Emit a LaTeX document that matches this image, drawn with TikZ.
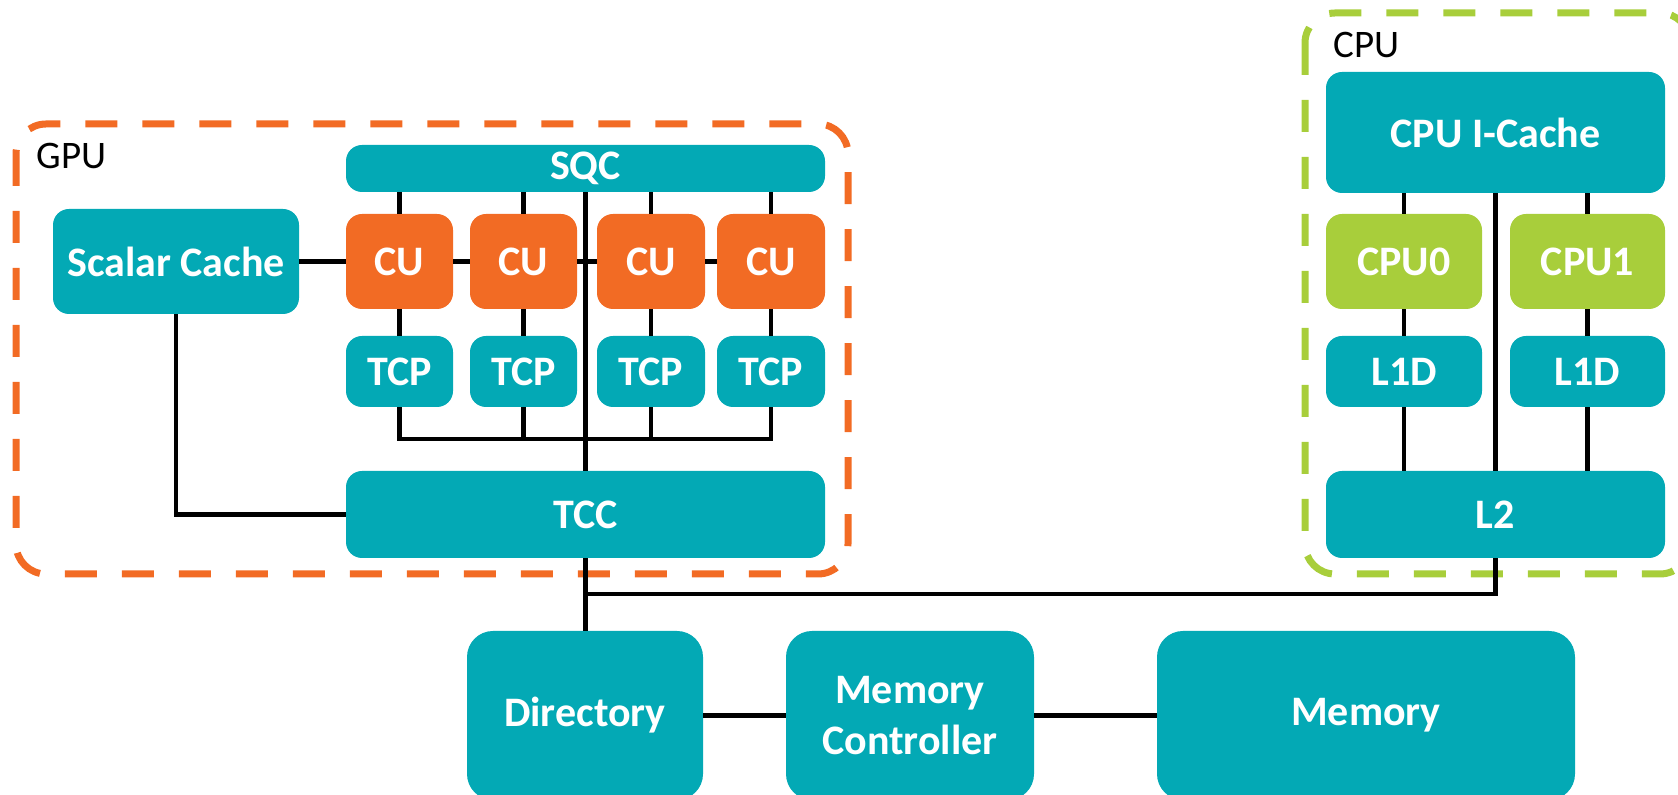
\documentclass[tikz,border=0pt]{standalone}
\usepackage{fontspec}
\setmainfont{Carlito}
\definecolor{tealc}{HTML}{03A9B5}
\definecolor{orangec}{HTML}{F26B24}
\definecolor{greenc}{HTML}{A8CE3B}
\begin{document}
\begin{tikzpicture}[x=0.5pt,y=-0.5pt,
  box/.style={fill=tealc, draw=none, rounded corners=8pt, inner sep=0pt, text=white,
              font=\fontsize{21}{25.5}\selectfont\bfseries, align=center},
  cubox/.style={box, fill=orangec},
  cpubox/.style={box, fill=greenc},
  membox/.style={box, rounded corners=13pt},
  wire/.style={line width=2.3pt, draw=black},
  frame/.style={line width=3.5pt, dash pattern=on 16pt off 12.5pt, rounded corners=15pt},
  grouplabel/.style={font=\fontsize{19.5}{22}\selectfont, anchor=west, inner sep=0pt, text=black}]
\useasboundingbox (0,0) rectangle (1678,795);
\clip (0,0) rectangle (1678,795);

% group frames
\draw[frame, draw=orangec] (16,124) rectangle (848,574);
\draw[frame, draw=greenc] (1305,13) rectangle (1690,574);
\node[grouplabel] (gpul) at (36,156) {GPU};
\node[grouplabel] (cpul) at (1333,45) {CPU};

% GPU
\node[box, minimum width=239.5pt, minimum height=23.5pt] (SQC) at (585.5,168.5) {SQC};
\node[box, minimum width=123pt, minimum height=52.5pt] (SC) at (176,261.5) {Scalar Cache};
\node[cubox, minimum width=53.5pt, minimum height=47.5pt] (CU1) at (399.5,261.5) {CU};
\node[cubox, minimum width=53.5pt, minimum height=47.5pt] (CU2) at (523.5,261.5) {CU};
\node[cubox, minimum width=54pt, minimum height=47.5pt] (CU3) at (651,261.5) {CU};
\node[cubox, minimum width=54pt, minimum height=47.5pt] (CU4) at (771,261.5) {CU};
\node[box, minimum width=53.5pt, minimum height=35.5pt] (TCP1) at (399.5,371.5) {TCP};
\node[box, minimum width=53.5pt, minimum height=35.5pt] (TCP2) at (523.5,371.5) {TCP};
\node[box, minimum width=54pt, minimum height=35.5pt] (TCP3) at (651,371.5) {TCP};
\node[box, minimum width=54pt, minimum height=35.5pt] (TCP4) at (771,371.5) {TCP};
\node[box, minimum width=239.5pt, minimum height=43.5pt] (TCC) at (585.5,514.5) {TCC};

% CPU
\node[box, minimum width=169.5pt, minimum height=60.5pt] (IC) at (1495.5,132.5) {CPU I-Cache};
\node[cpubox, minimum width=78pt, minimum height=47.5pt] (CPU0) at (1404,261.5) {CPU0};
\node[cpubox, minimum width=77.5pt, minimum height=47.5pt] (CPU1) at (1587.5,261.5) {CPU1};
\node[box, minimum width=78pt, minimum height=35.5pt] (L1A) at (1404,371.5) {L1D};
\node[box, minimum width=77.5pt, minimum height=35.5pt] (L1B) at (1587.5,371.5) {L1D};
\node[box, minimum width=169.5pt, minimum height=43.5pt] (L2) at (1495.5,514.5) {L2};

% memory side
\node[membox, minimum width=118pt, minimum height=84.5pt] (Dir) at (585,715.5) {Directory};
\node[membox, minimum width=124pt, minimum height=84.5pt] (MC) at (910,715.5) {Memory\\Controller};
\node[membox, minimum width=209pt, minimum height=84.5pt] (Mem) at (1366,715.5) {Memory};

% GPU wires
\coordinate (busy) at (0,439);
\coordinate (jy) at (0,594);
\foreach \i in {1,2,3,4} {
  \draw[wire] (CU\i.north |- SQC.south) -- (CU\i.north);
  \draw[wire] (CU\i.south) -- (TCP\i.north);
}
\draw[wire] (TCP1.south) |- (TCP4.south |- busy) -- (TCP4.south);
\draw[wire] (TCP2.south) -- (TCP2.south |- busy);
\draw[wire] (TCP3.south) -- (TCP3.south |- busy);
\draw[wire] (SC.east) -- (CU1.west);
\draw[wire] (CU1.east) -- (CU2.west);
\draw[wire] (CU2.east) -- (CU3.west);
\draw[wire] (CU3.east) -- (CU4.west);
\draw[wire] (SQC.south) -- (TCC.north);
\draw[wire] (SC.south) |- (TCC.west);
\draw[wire] (TCC.south) -- (TCC.south |- Dir.north);
\draw[wire] (TCC.south |- jy) -| (L2.south);

% CPU wires
\draw[wire] (CPU0.north |- IC.south) -- (CPU0.north);
\draw[wire] (CPU1.north |- IC.south) -- (CPU1.north);
\draw[wire] (CPU0.south) -- (L1A.north);
\draw[wire] (CPU1.south) -- (L1B.north);
\draw[wire] (L1A.south) -- (L1A.south |- L2.north);
\draw[wire] (L1B.south) -- (L1B.south |- L2.north);
\draw[wire] (IC.south) -- (L2.north);

% memory wires
\draw[wire] (Dir.east) -- (MC.west);
\draw[wire] (MC.east) -- (Mem.west);
\end{tikzpicture}
\end{document}
